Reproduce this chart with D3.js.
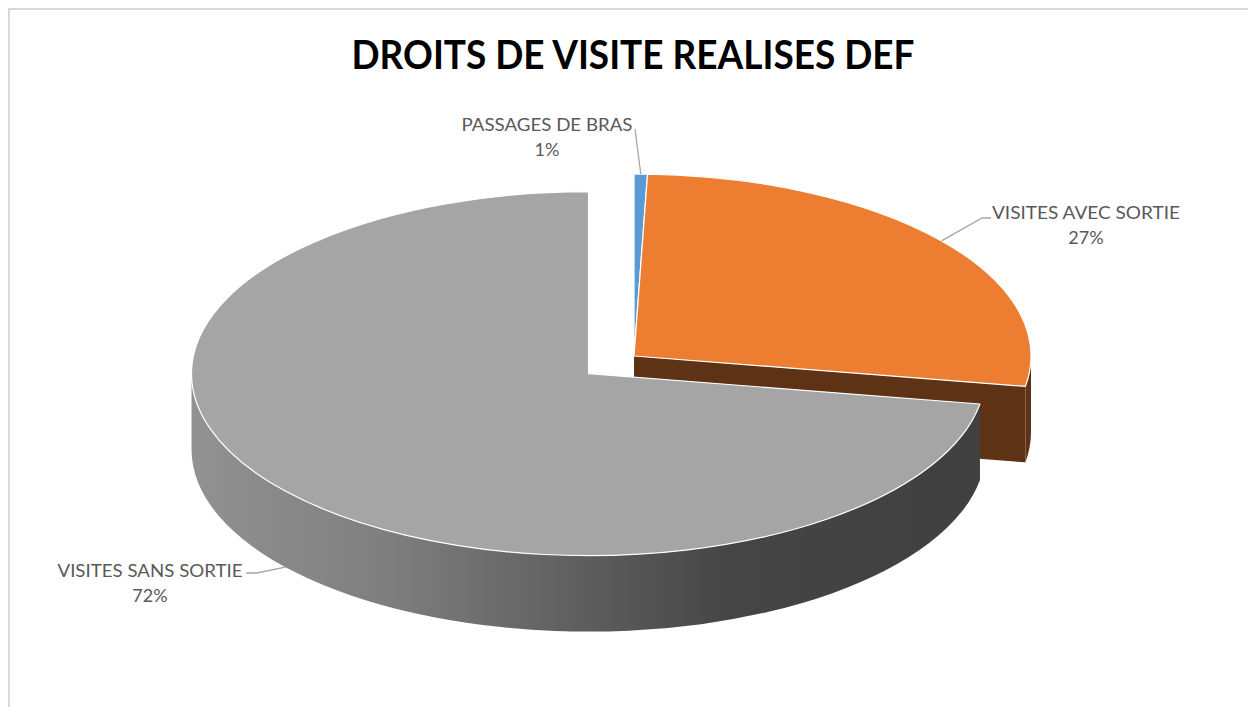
<!DOCTYPE html>
<html>
<head>
<meta charset="utf-8">
<script src="https://cdn.jsdelivr.net/npm/d3@7.9.0/dist/d3.min.js"></script>
<style>
  html, body { margin: 0; padding: 0; background: #fff; }
  svg { display: block; }
</style>
</head>
<body>
<svg id="chart" width="1248" height="707"></svg>
<script>
// Chart data
const title = "DROITS DE VISITE REALISES DEF";
const categories = ["PASSAGES DE BRAS", "VISITES AVEC SORTIE", "VISITES SANS SORTIE"];
const values = [3, 150, 400];
const explode = [0, 0, 0.15];

// Colours (top face / side face)
const topColors = ["#5b9bd5", "#ed7d31", "#a5a5a5"];
const sideColors = ["#2f5f8c", "#5e3214", "url(#graySide)"];

const svg = d3.select("#chart");
const width = +svg.attr("width");
const height = +svg.attr("height");

// Frame of the chart area
svg.append("rect")
  .attr("x", 9).attr("y", 9)
  .attr("width", width + 20).attr("height", height + 20)
  .attr("fill", "none")
  .attr("stroke", "#d9d9d9")
  .attr("stroke-width", 2);

// Title
svg.append("text")
  .attr("x", 633)
  .attr("y", 69)
  .attr("text-anchor", "middle")
  .attr("font-family", "Lato, 'Open Sans', sans-serif")
  .attr("font-weight", "bold")
  .attr("font-size", 40)
  .attr("textLength", 563)
  .attr("lengthAdjust", "spacingAndGlyphs")
  .attr("fill", "#000")
  .text(title);

// Gradient for the grey side wall
const defs = svg.append("defs");
const grad = defs.append("linearGradient")
  .attr("id", "graySide")
  .attr("gradientUnits", "userSpaceOnUse")
  .attr("x1", 190).attr("x2", 985)
  .attr("y1", 0).attr("y2", 0);
[[0, "#929292"], [0.25, "#7e7e7e"], [0.5, "#5d5d5d"], [0.68, "#454545"], [1, "#404040"]]
  .forEach(([o, c]) => grad.append("stop").attr("offset", o).attr("stop-color", c));

// 3D pie geometry
const center = [634, 356];
const rx = 397, ry = 182, depth = 76;

const pie = d3.pie().sort(null).value(d => d);
const arcs = pie(values);

const pt = (c, a, dy = 0) => [c[0] + rx * Math.sin(a), c[1] - ry * Math.cos(a) + dy];
const P = p => `${p[0]},${p[1]}`;

arcs.forEach((d, i) => {
  const mid = (d.startAngle + d.endAngle) / 2;
  const e = explode[i];
  d.c = [center[0] + e * rx * Math.sin(mid), center[1] - e * ry * Math.cos(mid)];
  d.mid = mid;
  d.i = i;
});

function topPath(d) {
  const p0 = pt(d.c, d.startAngle), p1 = pt(d.c, d.endAngle);
  const large = d.endAngle - d.startAngle > Math.PI ? 1 : 0;
  return `M${P(d.c)}L${P(p0)}A${rx},${ry} 0 ${large} 1 ${P(p1)}Z`;
}

function sidePath(d) {
  const s = Math.max(d.startAngle, Math.PI / 2);
  const e = Math.min(d.endAngle, 3 * Math.PI / 2);
  if (e <= s) return null;
  const large = e - s > Math.PI ? 1 : 0;
  return `M${P(pt(d.c, s))}A${rx},${ry} 0 ${large} 1 ${P(pt(d.c, e))}` +
    `L${P(pt(d.c, e, depth))}A${rx},${ry} 0 ${large} 0 ${P(pt(d.c, s, depth))}Z`;
}

function wallPath(c, a) {
  const p = pt(c, a);
  return `M${P(c)}L${P(p)}L${p[0]},${p[1] + depth}L${c[0]},${c[1] + depth}Z`;
}

const walls = [];
arcs.forEach(d => {
  if (Math.sin(d.startAngle) < -1e-6) walls.push({ d, a: d.startAngle });
  if (Math.sin(d.endAngle) > 1e-6) walls.push({ d, a: d.endAngle });
});

const pieG = svg.append("g");

pieG.selectAll(".wall")
  .data(walls)
  .join("path")
  .attr("class", "wall")
  .attr("d", w => wallPath(w.d.c, w.a))
  .attr("fill", w => sideColors[w.d.i] === "url(#graySide)" ? "#404040" : sideColors[w.d.i]);

pieG.selectAll(".side")
  .data(arcs.filter(d => sidePath(d)))
  .join("path")
  .attr("class", "side")
  .attr("d", sidePath)
  .attr("fill", d => sideColors[d.i]);

pieG.selectAll(".top")
  .data(arcs)
  .join("path")
  .attr("class", "top")
  .attr("d", topPath)
  .attr("fill", d => topColors[d.i])
  .attr("stroke", "#ffffff")
  .attr("stroke-width", 1.2)
  .attr("stroke-linejoin", "round");

// Data labels with leader lines
const labelLayout = [
  { x: 547, y: 131, width: 171, lead: [[635, 129]] },
  { x: 1086, y: 219, width: 188, lead: [[982, 218], [991, 218]] },
  { x: 150, y: 577, width: 185, lead: [[257, 573], [246, 573]] }
];

const pct = d3.format(".0%");
const total = d3.sum(values);
const labelFont = "Lato, 'Open Sans', sans-serif";

arcs.forEach(d => {
  const L = labelLayout[d.i];
  const attach = pt(d.c, d.mid, Math.cos(d.mid) < 0 ? depth : 0);
  const line = d3.line()([attach, ...L.lead]);
  svg.append("path")
    .attr("d", line)
    .attr("fill", "none")
    .attr("stroke", "#a6a6a6")
    .attr("stroke-width", 1.3);

  const g = svg.append("g")
    .attr("font-family", labelFont)
    .attr("font-size", 18)
    .attr("fill", "#595959")
    .attr("text-anchor", "middle");
  g.append("text")
    .attr("x", L.x).attr("y", L.y)
    .attr("textLength", L.width)
    .attr("lengthAdjust", "spacingAndGlyphs")
    .text(categories[d.i]);
  g.append("text")
    .attr("x", L.x).attr("y", L.y + 25)
    .text(pct(values[d.i] / total));
});
</script>
</body>
</html>
